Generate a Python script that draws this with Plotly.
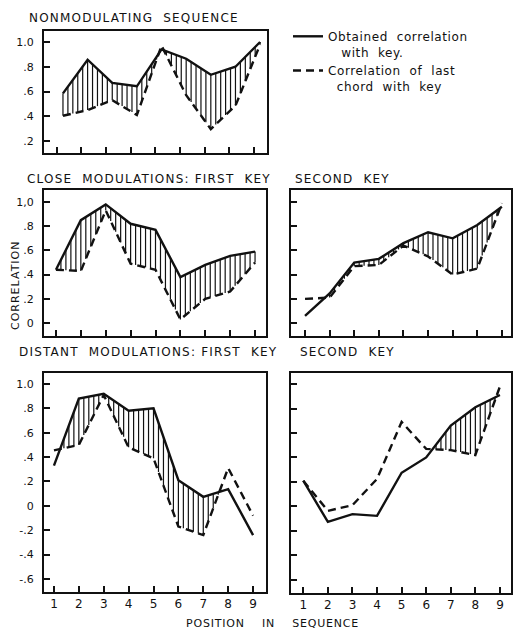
import numpy as np
import plotly.graph_objects as go

W, H = 513, 629
FONT = "DejaVu Sans"

positions = [1, 2, 3, 4, 5, 6, 7, 8, 9]

# Nonmodulating sequence
non_obtained = [0.585, 0.857, 0.67, 0.642, 0.94, 0.865, 0.735, 0.80, 1.0]
non_last = [0.404, 0.45, 0.53, 0.41, 0.97, 0.57, 0.296, 0.485, 0.98]

# Close modulations: first key / second key
close1_obtained = [0.44, 0.85, 0.98, 0.82, 0.77, 0.38, 0.48, 0.555, 0.59]
close1_last = [0.44, 0.43, 0.93, 0.49, 0.44, 0.03, 0.20, 0.26, 0.50]
close2_obtained = [0.06, 0.245, 0.50, 0.53, 0.66, 0.75, 0.70, 0.81, 0.96]
close2_last = [0.20, 0.21, 0.47, 0.48, 0.64, 0.55, 0.40, 0.45, 0.99]

# Distant modulations: first key / second key
dist1_obtained = [0.33, 0.88, 0.92, 0.78, 0.80, 0.21, 0.074, 0.137, -0.24]
dist1_last = [0.455, 0.50, 0.91, 0.48, 0.39, -0.17, -0.24, 0.31, -0.08]
dist2_obtained = [0.21, -0.126, -0.063, -0.077, 0.275, 0.40, 0.66, 0.81, 0.91]
dist2_last = [0.21, -0.036, 0.01, 0.225, 0.69, 0.47, 0.46, 0.42, 0.98]

x_ticklabels = ["1", "2", "3", "4", "5", "6", "7", "8", "9"]
top_yvals = [0.2, 0.4, 0.6, 0.8, 1.0]
top_ytext = [".2", ".4", ".6", ".8", "1.0"]
mid_yvals = [0, 0.2, 0.4, 0.6, 0.8, 1.0]
mid_ytext = ["0", ".2", ".4", ".6", ".8", "1,0"]
bot_yvals = [-0.6, -0.4, -0.2, 0, 0.2, 0.4, 0.6, 0.8, 1.0]
bot_ytext = ["-.6", "-.4", "-.2", "0", ".2", ".4", ".6", ".8", "1.0"]


def spaced(text, ls):
    return f'<span style="letter-spacing:{ls}px">{text}</span>'


# panel geometry in pixels: (left, right, top, bottom), x range, y range
panels = [
    dict(obt=non_obtained, last=non_last, px=(44, 267, 31, 153), xr=[0.23, 9.28], yr=[0.103, 1.089],
         yv=top_yvals, yt=top_ytext, xlab=False, ylab=True, tickshift=-0.25),
    dict(obt=close1_obtained, last=close1_last, px=(44, 266, 190, 336), xr=[0.52, 9.44], yr=[-0.107, 1.099],
         yv=mid_yvals, yt=mid_ytext, xlab=False, ylab=True, tickshift=0),
    dict(obt=close2_obtained, last=close2_last, px=(291, 511, 190, 336), xr=[0.43, 9.37], yr=[-0.107, 1.099],
         yv=mid_yvals, yt=mid_ytext, xlab=False, ylab=False, tickshift=0),
    dict(obt=dist1_obtained, last=dist1_last, px=(44, 266, 373, 592), xr=[0.6, 9.52], yr=[-0.707, 1.09],
         yv=bot_yvals, yt=bot_ytext, xlab=True, ylab=True, tickshift=0),
    dict(obt=dist2_obtained, last=dist2_last, px=(291, 511, 373, 593), xr=[0.5, 9.45], yr=[-0.707, 1.09],
         yv=bot_yvals, yt=bot_ytext, xlab=True, ylab=False, tickshift=0),
]

fig = go.Figure()
layout = {}
for i, p in enumerate(panels):
    n = i + 1
    xa = "x" if n == 1 else f"x{n}"
    ya = "y" if n == 1 else f"y{n}"
    # hatching where obtained exceeds last-chord correlation
    xs = np.linspace(1, 9, 41)
    hi = np.interp(xs, positions, p["obt"])
    lo = np.interp(xs, positions, p["last"])
    hx, hy = [], []
    for xv, a, b in zip(xs, hi, lo):
        if a - b > 0.02:
            hx += [xv, xv, None]
            hy += [b, a, None]
    fig.add_trace(go.Scatter(x=hx, y=hy, mode="lines", line=dict(color="#111", width=1.2),
                             xaxis=xa, yaxis=ya, showlegend=False, hoverinfo="skip"))
    fig.add_trace(go.Scatter(x=positions, y=p["obt"], mode="lines",
                             line=dict(color="#111", width=2.4),
                             name=spaced("Obtained\u00a0 correlation<br>\u00a0\u00a0\u00a0with\u00a0 key.", 0.6),
                             showlegend=(n == 1), xaxis=xa, yaxis=ya))
    fig.add_trace(go.Scatter(x=positions, y=p["last"], mode="lines",
                             line=dict(color="#111", width=2.4, dash="8px,5px"),
                             name=spaced("Correlation\u00a0 of\u00a0 last<br>\u00a0\u00a0chord\u00a0 with\u00a0 key", 0.6),
                             showlegend=(n == 1), xaxis=xa, yaxis=ya))
    l, r, t, b = p["px"]
    xkey = "xaxis" if n == 1 else f"xaxis{n}"
    ykey = "yaxis" if n == 1 else f"yaxis{n}"
    layout[xkey] = dict(domain=[l / W, r / W], range=p["xr"], anchor=ya,
                        showline=True, mirror=True, linecolor="#111", linewidth=2,
                        ticks="inside", ticklen=6, tickwidth=1.5, tickcolor="#111",
                        tickvals=[v + p["tickshift"] for v in positions], ticktext=x_ticklabels,
                        showticklabels=p["xlab"], showgrid=False, zeroline=False,
                        tickfont=dict(family=FONT, size=12, color="#111"), fixedrange=True)
    layout[ykey] = dict(domain=[1 - b / H, 1 - t / H], range=p["yr"], anchor=xa,
                        showline=True, mirror=True, linecolor="#111", linewidth=2,
                        ticks="inside", ticklen=6, tickwidth=1.5, tickcolor="#111",
                        tickvals=p["yv"], ticktext=p["yt"], showticklabels=p["ylab"],
                        ticklabelstandoff=6,
                        showgrid=False, zeroline=False,
                        tickfont=dict(family=FONT, size=11, color="#111"), fixedrange=True)

titles = [
    ("NONMODULATING\u00a0 SEQUENCE", 27, 18),
    ("CLOSE\u00a0 MODULATIONS: FIRST\u00a0 KEY", 25, 179),
    ("SECOND\u00a0 KEY", 293, 179),
    ("DISTANT\u00a0 MODULATIONS: FIRST\u00a0 KEY", 17, 352),
    ("SECOND\u00a0 KEY", 298, 352),
]
annotations = []
for text, x, y in titles:
    annotations.append(dict(text=spaced(text, 1.2), x=x / W, y=1 - y / H, xref="paper", yref="paper",
                            xanchor="left", yanchor="middle", showarrow=False,
                            font=dict(family=FONT, size=12, color="#111")))
annotations.append(dict(text=spaced("CORRELATION", 1.0), x=15 / W, y=1 - 286 / H, xref="paper", yref="paper",
                        textangle=-90, showarrow=False, xanchor="center", yanchor="middle",
                        font=dict(family=FONT, size=11, color="#111")))
annotations.append(dict(text=spaced("POSITION\u00a0\u00a0\u00a0 IN\u00a0\u00a0\u00a0 SEQUENCE", 0.8),
                        x=272 / W, y=1 - 623 / H,
                        xref="paper", yref="paper", showarrow=False, xanchor="center", yanchor="middle",
                        font=dict(family=FONT, size=11, color="#111")))

fig.update_layout(
    width=W, height=H, margin=dict(l=0, r=0, t=0, b=0),
    paper_bgcolor="white", plot_bgcolor="white",
    annotations=annotations,
    legend=dict(x=288 / W, y=1 - 22 / H, xanchor="left", yanchor="top",
                bgcolor="rgba(0,0,0,0)", itemwidth=30, valign="top",
                font=dict(family=FONT, size=12, color="#111"), tracegroupgap=4),
    **layout,
)
fig.write_html("out.html", config={"displayModeBar": False},
               post_script="document.body.style.margin='0px';document.body.style.overflow='hidden';")
